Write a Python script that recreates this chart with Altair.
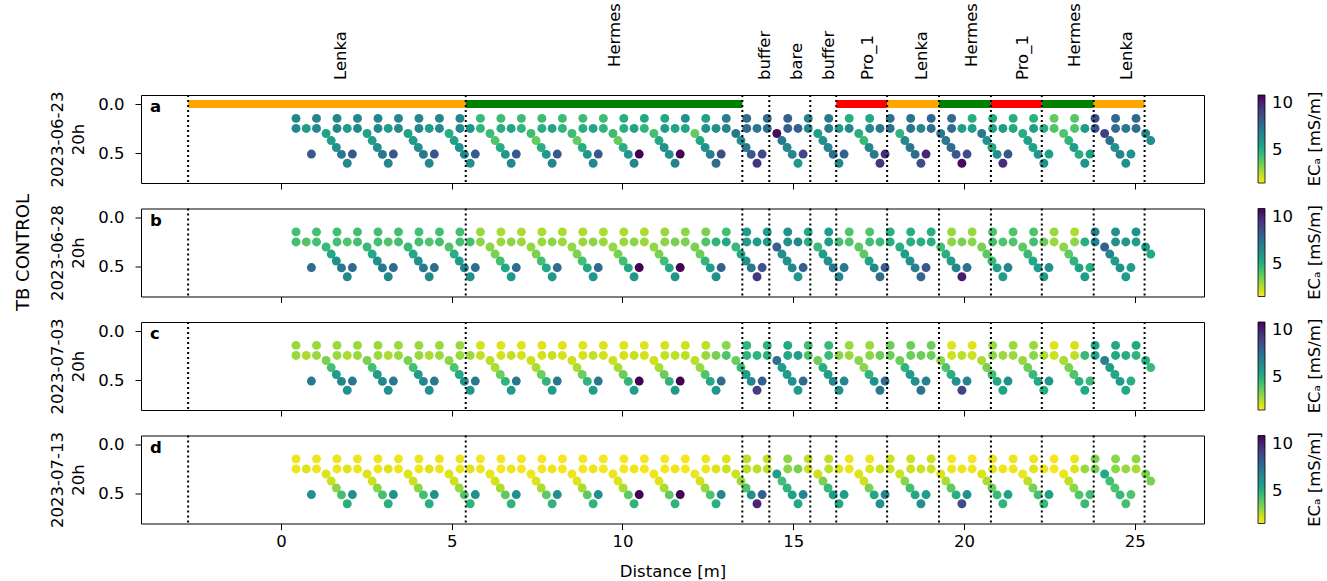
import altair as alt
import pandas as pd

# ---------------- data ----------------
GROUP_X0 = [0.44, 1.64, 2.84, 4.04, 5.24, 6.44, 7.64, 8.84, 10.04, 11.24, 12.44,
            13.64, 14.84, 16.04, 17.24, 18.44, 19.64, 20.84, 22.04, 23.24, 24.44]
# point layout inside one group: two shallow, three mid, five diagonal, one isolated deep
POINT_DX = [0.0, 0.6, 0.0, 0.3, 0.6, 0.88, 1.03, 1.18, 1.33, 1.5, 0.45]
POINT_DEPTH = [0.145, 0.145, 0.247, 0.247, 0.247, 0.298, 0.37, 0.44, 0.51, 0.6, 0.507]

BOUNDS = [-2.72, 5.41, 13.51, 14.30, 15.50, 16.26, 17.75, 19.27, 20.79, 22.28, 23.80, 25.29]
SEG_LABELS = ["Lenka", "Hermes", "buffer", "bare", "buffer", "Pro_1", "Lenka",
              "Hermes", "Pro_1", "Hermes", "Lenka"]
LABEL_X = [1.75, 9.77, 14.18, 15.12, 16.05, 17.19, 18.77, 20.23, 21.73, 23.25, 24.77]
SEG_COLORS = ["orange", "green", None, None, None, "red", "orange", "green", "red",
              "green", "orange"]

DATES = ["2023-06-23", "2023-06-28", "2023-07-03", "2023-07-13"]
LETTERS = ["a", "b", "c", "d"]

# ECa per group: [s1, s2, m1, m2, m3, d1, d2, d3, d4, d5, iso]
EC_A = [
    [6.3, 6.3, 6.3, 5.6, 6.3, 5.4, 5.6, 6.0, 6.8, 6.3, 7.8],
    [6.3, 6.3, 6.3, 5.6, 6.3, 5.4, 5.6, 6.0, 6.8, 6.3, 7.8],
    [6.3, 6.3, 6.3, 5.6, 6.3, 5.4, 5.6, 6.0, 6.8, 6.3, 7.8],
    [6.3, 6.3, 6.3, 5.6, 6.3, 5.0, 5.4, 6.0, 6.3, 6.0, 7.8],
    [6.3, 4.6, 6.3, 6.0, 4.8, 4.5, 4.2, 5.0, 5.8, 6.3, 7.8],
    [4.5, 4.5, 5.0, 5.3, 4.8, 4.5, 3.9, 5.0, 5.8, 6.3, 7.8],
    [4.5, 4.5, 5.0, 5.3, 4.8, 4.5, 3.9, 5.0, 5.8, 6.3, 7.8],
    [4.5, 4.5, 5.0, 5.3, 4.8, 4.5, 3.9, 5.0, 5.8, 6.3, 7.8],
    [5.0, 5.2, 5.0, 5.3, 4.8, 4.4, 5.2, 6.0, 6.0, 6.6, 10.0],
    [5.2, 6.0, 5.6, 5.3, 5.3, 3.9, 5.2, 6.0, 6.6, 7.2, 10.0],
    [5.4, 6.6, 6.0, 6.0, 6.5, 6.8, 6.0, 6.8, 7.8, 8.8, 8.2],
    [7.2, 7.2, 7.2, 6.8, 7.2, 9.8, 6.8, 6.3, 6.3, 5.8, 8.3],
    [7.6, 6.5, 7.6, 7.6, 6.3, 5.5, 6.0, 6.3, 7.2, 6.3, 8.3],
    [6.8, 5.0, 6.8, 5.6, 6.3, 5.0, 4.6, 6.3, 6.8, 8.8, 7.6],
    [5.2, 7.0, 6.3, 6.8, 7.0, 4.8, 6.3, 6.8, 7.2, 8.2, 9.0],
    [7.0, 7.3, 7.0, 6.3, 7.2, 6.8, 6.8, 7.2, 7.8, 9.8, 9.2],
    [7.2, 5.0, 7.2, 5.5, 5.5, 6.8, 6.0, 5.2, 6.0, 9.0, 8.2],
    [5.2, 5.0, 5.4, 5.6, 5.2, 5.0, 5.4, 5.4, 5.8, 6.0, 7.8],
    [4.9, 3.9, 5.5, 5.0, 4.2, 4.2, 4.8, 5.6, 5.0, 6.0, 5.5],
    [4.1, 8.2, 4.2, 5.6, 8.0, 8.6, 7.0, 6.0, 6.5, 6.0, 5.5],
    [7.3, 7.3, 7.2, 6.8, 7.2, 6.3, 6.0, None, None, None, 6.0],
]
EC_B = [
    [4.4, 4.4, 4.4, 4.2, 4.4, 4.6, 5.2, 6.0, 6.8, 6.3, 7.2],
    [4.4, 4.4, 4.4, 4.2, 4.4, 4.6, 5.2, 6.0, 6.8, 6.3, 7.2],
    [4.4, 4.4, 4.4, 4.2, 4.4, 4.6, 5.2, 6.0, 6.8, 6.3, 7.2],
    [4.4, 4.4, 4.4, 4.2, 4.4, 4.2, 5.0, 5.6, 6.3, 6.0, 7.2],
    [4.4, 3.2, 4.4, 4.4, 3.4, 3.4, 3.6, 4.4, 5.2, 5.8, 7.2],
    [3.0, 3.0, 3.2, 3.4, 3.2, 3.3, 3.6, 4.4, 5.2, 5.8, 7.2],
    [3.0, 3.0, 3.2, 3.4, 3.2, 3.3, 3.6, 4.4, 5.2, 5.8, 7.2],
    [3.0, 3.0, 3.2, 3.4, 3.2, 3.3, 3.6, 4.4, 5.2, 5.8, 7.2],
    [3.0, 3.0, 3.2, 3.4, 3.2, 3.3, 3.6, 4.4, 5.2, 5.8, 10.0],
    [3.2, 3.4, 3.4, 3.6, 3.6, 3.6, 3.8, 4.8, 5.6, 6.0, 10.0],
    [3.6, 4.4, 4.2, 4.8, 5.2, 4.6, 5.2, 6.0, 6.8, 8.8, 7.6],
    [5.6, 5.6, 5.6, 5.6, 5.6, 7.6, 6.0, 6.0, 6.3, 5.8, 8.0],
    [6.0, 5.2, 6.0, 6.3, 5.0, 4.6, 5.6, 6.0, 6.8, 6.3, 7.6],
    [5.6, 4.2, 5.6, 4.4, 4.2, 4.0, 4.0, 5.4, 6.3, 7.2, 6.8],
    [4.2, 5.0, 4.4, 4.6, 5.0, 5.0, 5.6, 6.0, 6.6, 7.4, 7.6],
    [5.0, 5.0, 5.0, 5.0, 5.0, 4.4, 5.0, 5.6, 6.4, 9.4, 7.8],
    [3.2, 3.2, 3.4, 3.6, 3.4, 3.6, 4.0, 4.6, 5.4, 5.6, 7.0],
    [4.2, 4.2, 4.4, 4.2, 4.2, 4.0, 4.6, 5.2, 5.6, 5.6, 6.4],
    [4.2, 3.2, 4.4, 3.8, 3.2, 3.4, 4.0, 4.8, 5.4, 5.6, 6.0],
    [3.0, 6.6, 3.4, 5.0, 6.4, 7.6, 6.3, 5.6, 6.0, 5.6, 5.0],
    [6.0, 6.0, 6.0, 5.8, 5.6, 5.6, 5.2, None, None, None, 5.6],
]
EC_C = [
    [3.2, 3.2, 3.2, 3.0, 3.2, 3.6, 4.4, 5.6, 6.3, 6.0, 6.8],
    [3.2, 3.2, 3.2, 3.0, 3.2, 3.6, 4.4, 5.6, 6.3, 6.0, 6.8],
    [3.2, 3.2, 3.2, 3.0, 3.2, 3.6, 4.4, 5.6, 6.3, 6.0, 6.8],
    [3.2, 3.2, 3.2, 3.0, 3.2, 3.4, 4.2, 5.2, 6.0, 5.8, 6.8],
    [3.2, 2.5, 3.2, 3.2, 2.7, 2.8, 3.0, 3.8, 4.8, 5.6, 6.8],
    [2.4, 2.4, 2.5, 2.7, 2.5, 2.6, 3.0, 3.8, 4.8, 5.6, 6.8],
    [2.4, 2.4, 2.5, 2.7, 2.5, 2.6, 3.0, 3.8, 4.8, 5.6, 6.8],
    [2.4, 2.4, 2.5, 2.7, 2.5, 2.6, 3.0, 3.8, 4.8, 5.6, 6.8],
    [2.4, 2.4, 2.5, 2.7, 2.5, 2.6, 3.0, 3.8, 4.8, 5.6, 10.0],
    [2.5, 2.6, 2.7, 2.8, 2.8, 2.8, 3.2, 4.2, 5.2, 5.8, 10.0],
    [2.8, 3.4, 3.2, 3.6, 4.2, 3.8, 4.6, 5.6, 6.3, 8.6, 7.2],
    [4.8, 4.8, 4.8, 4.8, 4.8, 7.0, 5.6, 5.6, 6.0, 5.6, 7.6],
    [5.2, 4.4, 5.2, 5.6, 4.2, 3.8, 5.0, 5.6, 6.3, 6.0, 7.2],
    [4.6, 3.2, 4.6, 3.4, 3.2, 3.4, 3.4, 4.8, 6.0, 6.8, 6.3],
    [3.2, 3.8, 3.4, 3.8, 3.8, 3.8, 4.8, 5.6, 6.0, 7.0, 7.2],
    [3.8, 3.8, 3.8, 3.8, 3.8, 3.4, 4.2, 5.0, 6.0, 8.4, 6.6],
    [2.4, 2.4, 2.6, 2.8, 2.6, 3.0, 3.6, 4.4, 5.2, 5.4, 6.5],
    [3.2, 3.2, 3.4, 3.2, 3.2, 3.2, 3.8, 4.6, 5.2, 5.0, 6.0],
    [3.2, 2.4, 3.4, 3.0, 2.6, 3.0, 3.6, 4.2, 5.0, 5.2, 5.8],
    [2.5, 5.4, 2.8, 4.6, 5.4, 6.6, 5.6, 5.2, 5.6, 5.2, 4.6],
    [5.2, 5.2, 5.2, 5.0, 4.8, 5.0, 4.6, None, None, None, 5.0],
]
EC_D = [
    [2.2, 2.2, 2.2, 2.4, 2.2, 2.4, 2.6, 3.4, 4.4, 5.0, 6.0],
    [2.2, 2.2, 2.2, 2.4, 2.2, 2.4, 2.6, 3.4, 4.4, 5.0, 6.0],
    [2.2, 2.2, 2.2, 2.4, 2.2, 2.4, 2.6, 3.4, 4.4, 5.0, 6.0],
    [2.2, 2.2, 2.2, 2.4, 2.2, 2.4, 2.6, 3.2, 4.2, 4.8, 6.0],
    [2.2, 2.1, 2.2, 2.4, 2.2, 2.3, 2.5, 3.0, 4.0, 4.8, 6.0],
    [2.1, 2.1, 2.1, 2.2, 2.1, 2.2, 2.4, 3.0, 4.0, 4.8, 6.0],
    [2.1, 2.1, 2.1, 2.2, 2.1, 2.2, 2.4, 3.0, 4.0, 4.8, 6.0],
    [2.1, 2.1, 2.1, 2.2, 2.1, 2.2, 2.4, 3.0, 4.0, 4.8, 6.0],
    [2.1, 2.1, 2.1, 2.2, 2.1, 2.2, 2.4, 3.0, 4.0, 4.8, 10.0],
    [2.1, 2.1, 2.1, 2.2, 2.1, 2.2, 2.5, 3.2, 4.2, 5.0, 10.0],
    [2.2, 2.4, 2.2, 2.4, 2.6, 2.6, 3.2, 4.2, 6.0, 9.2, 6.3],
    [2.8, 2.8, 2.8, 2.8, 2.8, 5.6, 4.4, 4.8, 5.4, 5.2, 7.6],
    [3.4, 2.8, 3.4, 3.6, 2.6, 2.6, 3.6, 4.6, 5.6, 5.2, 6.3],
    [2.8, 2.2, 2.8, 2.4, 2.2, 2.4, 2.6, 3.6, 5.2, 6.0, 5.6],
    [2.2, 2.6, 2.4, 2.6, 2.6, 2.6, 3.4, 4.4, 5.2, 6.0, 6.3],
    [2.6, 2.6, 2.6, 2.6, 2.6, 2.4, 3.0, 4.0, 5.0, 8.2, 5.6],
    [2.1, 2.1, 2.2, 2.2, 2.2, 2.4, 3.0, 3.8, 4.6, 4.8, 6.0],
    [2.2, 2.2, 2.4, 2.2, 2.2, 2.2, 2.8, 3.6, 4.4, 4.6, 5.4],
    [2.2, 2.1, 2.4, 2.2, 2.1, 2.2, 2.8, 3.4, 4.2, 4.6, 5.4],
    [2.2, 3.6, 2.4, 3.2, 3.6, 5.2, 4.4, 4.2, 4.6, 4.4, 4.4],
    [3.4, 3.4, 3.4, 3.2, 3.0, 3.6, 3.6, None, None, None, 4.2],
]
PANELS = [EC_A, EC_B, EC_C, EC_D]

# ---------------- layout ----------------
W, H = 1063, 88
FONT = "DejaVu Sans"
FS = 16.5

xscale = alt.Scale(domain=[-4.1, 27.03], nice=False, zero=False)
yscale = alt.Scale(domain=[-0.092, 0.80], reverse=True, nice=False, zero=False)
cscale = alt.Scale(scheme="viridis", reverse=True, domain=[2, 10])


def points_df(vals):
    rows = []
    for g, x0 in enumerate(GROUP_X0):
        for k in range(len(POINT_DX)):
            v = vals[g][k]
            if v is None:
                continue
            rows.append({"x": x0 + POINT_DX[k], "depth": POINT_DEPTH[k], "ec": v})
    return pd.DataFrame(rows)


bounds_df = pd.DataFrame({"x": BOUNDS})
seg_df = pd.DataFrame({
    "x": BOUNDS[:-1], "x2": BOUNDS[1:], "col": SEG_COLORS
}).dropna()
lab_df = pd.DataFrame({"x": LABEL_X, "label": SEG_LABELS})


def panel(i):
    last = i == 3
    xaxis = alt.Axis(values=[0, 5, 10, 15, 20, 25], labels=last, format="d",
                     title="Distance [m]" if last else None, grid=False,
                     domain=False, ticks=True, labelPadding=4, titlePadding=13)
    yaxis = alt.Axis(values=[0, 0.5], format=".1f", title=[DATES[i], "20h"],
                     grid=False, domain=False, labelPadding=11, titlePadding=11,
                     titleLineHeight=21)
    X = alt.X("x:Q", scale=xscale, axis=xaxis)
    Y = alt.Y("depth:Q", scale=yscale, axis=yaxis)

    pts = alt.Chart(points_df(PANELS[i])).mark_circle(size=80, opacity=1).encode(
        x=X, y=Y,
        color=alt.Color("ec:Q", scale=cscale, legend=alt.Legend(
            orient="none", legendX=W + 54, legendY=0, direction="vertical",
            gradientLength=H, gradientThickness=7, title=None, values=[5, 10],
            labelFontSize=FS, labelFont=FONT, labelColor="black", labelOffset=7,
            labelBaseline="middle",
            gradientStrokeColor="black", gradientStrokeWidth=0.8, padding=0)),
    )
    rules = alt.Chart(bounds_df).mark_rule(
        color="black", strokeDash=[2, 3], strokeWidth=2).encode(x=X)
    letter = alt.Chart(pd.DataFrame({"t": [LETTERS[i]]})).mark_text(
        align="left", baseline="middle", fontWeight="bold", fontSize=FS, font=FONT,
        color="black").encode(x=alt.value(9), y=alt.value(12), text="t:N")
    ectitle = alt.Chart(pd.DataFrame({"t": ["ECₐ [mS/m]"]})).mark_text(
        angle=270, align="center", baseline="middle", fontSize=FS, font=FONT,
        color="black").encode(x=alt.value(W + 111), y=alt.value(H / 2), text="t:N")

    layers = [pts]
    if i == 0:
        bars = alt.Chart(seg_df).mark_rule(strokeWidth=8).encode(
            x=X, x2="x2:Q", y=alt.YDatum(0, scale=yscale, axis=yaxis),
            stroke=alt.Stroke("col:N", scale=None))
        labs = alt.Chart(lab_df[lab_df.label != "Hermes"]).mark_text(
            angle=270, align="left", baseline="middle", fontSize=FS, font=FONT,
            color="black").encode(x=X, y=alt.value(-15), text="label:N")
        labs_h = alt.Chart(lab_df[lab_df.label == "Hermes"]).mark_text(
            angle=270, align="left", baseline="middle", fontSize=FS, font=FONT,
            color="black").encode(x=X, y=alt.value(-28), text="label:N")
        layers += [bars, labs, labs_h]
    layers += [rules, letter, ectitle]
    if i == 1:
        tb = alt.Chart(pd.DataFrame({"t": ["TB CONTROL"]})).mark_text(
            angle=270, align="center", baseline="middle", fontSize=18, font=FONT,
            color="black").encode(x=alt.value(-117), y=alt.value(H / 2), text="t:N")
        layers.append(tb)
    return alt.layer(*layers).properties(width=W, height=H)


chart = alt.vconcat(*[panel(i) for i in range(4)], spacing=25.5, bounds="flush").resolve_scale(
    color="independent").resolve_legend(color="independent").properties(
    padding={"left": 14, "top": 2, "right": 0, "bottom": 0}
).configure_view(stroke="black", strokeWidth=1).configure_axis(
    labelFont=FONT, titleFont=FONT, labelFontSize=FS, titleFontSize=FS,
    labelColor="black", titleColor="black", titleFontWeight="normal",
    tickColor="black", tickSize=6, tickWidth=1,
)

chart.save("out.html", embed_options={"renderer": "svg", "actions": False})
